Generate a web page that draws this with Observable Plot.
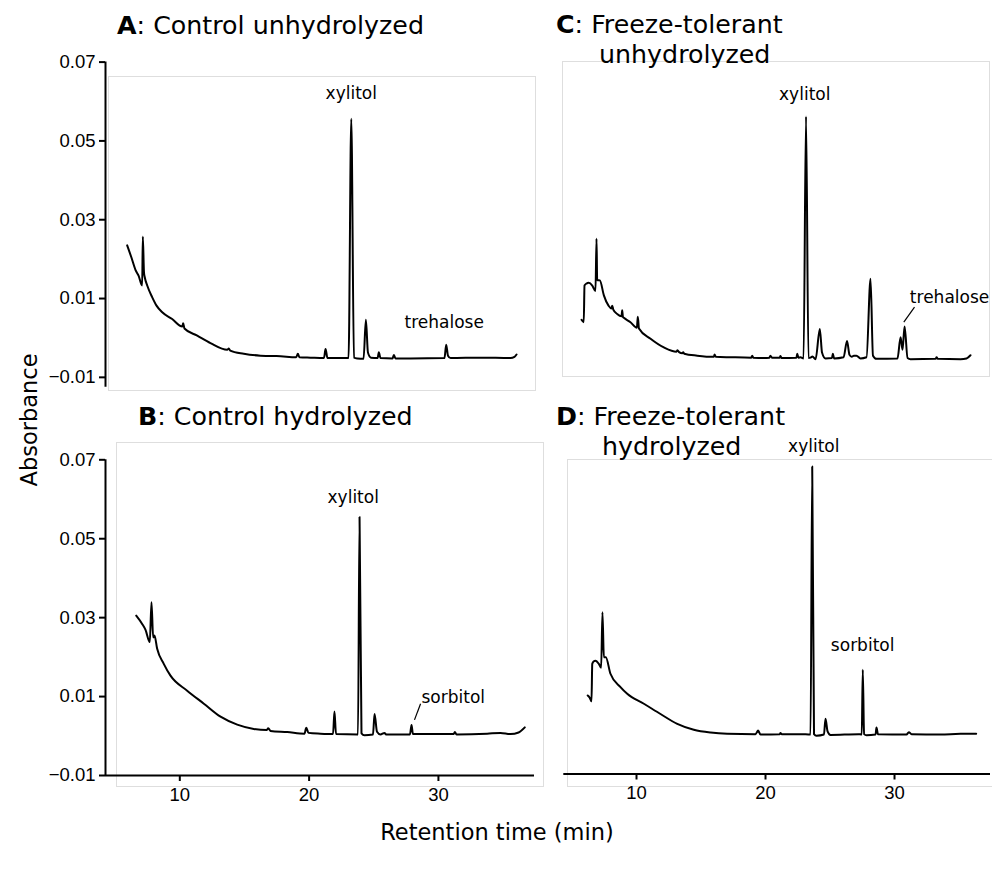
<!DOCTYPE html>
<html><head><meta charset="utf-8">
<script src="https://cdn.jsdelivr.net/npm/d3@7"></script>
<script src="https://cdn.jsdelivr.net/npm/@observablehq/plot@0.6"></script>
<style>
body{margin:0;background:#fff;}
#fig{position:relative;width:992px;height:877px;overflow:hidden;background:#fff;font-family:"DejaVu Sans",Verdana,sans-serif;color:#000;}
.lbl{position:absolute;white-space:nowrap;line-height:1;color:#000;}
.box{position:absolute;border:1px solid #dedede;box-sizing:border-box;}
.pan{position:absolute;}
</style></head><body><div id="fig"></div>
<script>
// ---- data: [retention time (min), absorbance] ----
const panelA = [[5.93,0.0235],[6.26,0.0204],[6.57,0.0173],[6.81,0.0158],[7.09,0.0133],[7.14,0.0257],[7.23,0.0166],[7.29,0.0154],[7.48,0.0133],[7.87,0.0103],[8.2,0.0082],[8.64,0.0065],[9.41,0.0048],[10.19,0.0029],[10.26,0.0037],[10.36,0.0024],[11.35,0.0006],[12.37,-0.0013],[13.67,-0.003],[13.79,-0.0027],[13.9,-0.0032],[14.95,-0.004],[16.24,-0.0045],[17.0,-0.0046],[17.48,-0.0046],[19.0,-0.0049],[19.13,-0.004],[19.25,-0.0049],[20.11,-0.005],[21.15,-0.0051],[21.27,-0.0028],[21.42,-0.0051],[23.05,-0.0051],[23.26,0.0556],[23.47,-0.005],[23.74,-0.0052],[24.21,-0.0053],[24.39,0.0046],[24.55,-0.0037],[24.78,-0.005],[25.3,-0.0051],[25.39,-0.0036],[25.52,-0.0051],[26.45,-0.0052],[26.55,-0.0043],[26.68,-0.0052],[27.84,-0.0052],[30.47,-0.0051],[30.6,-0.0017],[30.74,-0.0045],[30.94,-0.0051],[33.26,-0.005],[35.58,-0.0051],[35.88,-0.0048],[36.04,-0.0042]];
const panelB = [[6.63,0.0305],[7.09,0.0284],[7.35,0.0269],[7.68,0.0238],[7.81,0.0339],[7.94,0.025],[8.04,0.0255],[8.25,0.0221],[8.76,0.0183],[9.28,0.0153],[10.57,0.0115],[11.86,0.0082],[13.15,0.0049],[14.44,0.0029],[15.72,0.0018],[16.71,0.0015],[16.84,0.002],[17.01,0.0013],[18.31,0.001],[19.64,0.0006],[19.78,0.0021],[19.95,0.0008],[20.88,0.0006],[21.85,0.0005],[21.96,0.0062],[22.08,0.0005],[23.78,0.0004],[23.9,0.0555],[24.05,0.0007],[24.28,0.0002],[24.94,0.0004],[25.06,0.0056],[25.25,0.0011],[25.52,0.0004],[25.83,0.0008],[25.95,0.0004],[27.8,0.0004],[27.92,0.0028],[28.03,0.0005],[31.17,0.0005],[31.27,0.001],[31.4,0.0004],[33.77,0.0006],[34.8,0.0008],[35.58,0.0005],[36.2,0.0009],[36.68,0.0022]];
const panelC = [[5.74,0.0046],[5.91,0.004],[5.97,0.0133],[6.12,0.0138],[6.3,0.014],[6.57,0.0133],[6.82,0.0119],[6.9,0.0252],[6.95,0.0147],[7.16,0.0146],[7.47,0.0108],[7.83,0.0082],[8.05,0.0075],[8.12,0.0082],[8.2,0.0072],[8.5,0.0061],[8.84,0.0055],[8.89,0.007],[8.95,0.0053],[9.02,0.0051],[9.53,0.004],[10.03,0.0026],[10.1,0.0054],[10.19,0.0024],[11.09,-0.0002],[12.12,-0.0024],[13.1,-0.0035],[13.18,-0.0031],[13.3,-0.0036],[13.55,-0.0039],[13.62,-0.0036],[13.7,-0.004],[14.71,-0.0045],[16.0,-0.0048],[16.05,-0.0042],[16.15,-0.0048],[17.29,-0.0049],[18.9,-0.005],[18.97,-0.0045],[19.05,-0.005],[19.87,-0.0051],[20.3,-0.005],[20.38,-0.0045],[20.5,-0.005],[21.1,-0.005],[21.16,-0.0046],[21.25,-0.0051],[22.4,-0.005],[22.46,-0.004],[22.55,-0.005],[22.71,-0.0049],[22.95,-0.0052],[23.14,0.0562],[23.33,-0.0051],[23.5,-0.005],[23.64,-0.0047],[23.88,-0.0054],[24.21,0.0023],[24.38,-0.0037],[24.65,-0.0052],[25.15,-0.0051],[25.22,-0.004],[25.32,-0.0052],[26.05,-0.0049],[26.32,-0.0008],[26.51,-0.0043],[26.68,-0.0048],[26.85,-0.0045],[27.05,-0.0045],[27.36,-0.0052],[27.83,-0.0049],[28.14,0.015],[28.33,-0.0045],[28.6,-0.0053],[30.23,-0.0052],[30.47,0.0002],[30.62,-0.003],[30.78,0.0029],[31.01,-0.0051],[31.24,-0.0054],[33.18,-0.0053],[33.26,-0.0049],[33.35,-0.0053],[35.12,-0.0054],[35.58,-0.0052],[35.89,-0.0044]];
const panelD = [[6.22,0.0103],[6.36,0.0098],[6.51,0.0088],[6.57,0.0183],[6.67,0.0189],[6.82,0.0191],[7.08,0.0183],[7.26,0.0173],[7.36,0.0314],[7.47,0.02],[7.62,0.02],[7.98,0.0158],[8.76,0.0124],[9.28,0.0107],[10.57,0.0082],[11.86,0.0056],[13.16,0.0031],[14.44,0.0016],[15.74,0.0009],[17.03,0.0006],[19.22,0.0005],[19.43,0.0014],[19.61,0.0004],[21.1,0.0005],[21.16,0.0008],[21.25,0.0005],[22.71,0.0005],[23.49,0.0004],[23.62,0.0683],[23.76,0.0005],[23.95,0.0001],[24.53,0.0004],[24.65,0.0044],[24.81,0.0012],[25.04,0.0003],[27.21,0.0005],[27.46,0.0004],[27.54,0.0168],[27.64,0.0005],[27.83,0.0002],[28.53,0.0004],[28.6,0.0022],[28.72,0.0005],[30.93,0.0004],[31.11,0.001],[31.32,0.0005],[33.57,0.0004],[35.12,0.0006],[36.33,0.0006]];

// peak labels: [label, time, absorbance, anchor]
const labelsA = [["xylitol",23.26,0.062,"middle"],["trehalose",30.45,0.004,"middle"]];
const labelsB = [["xylitol",23.41,0.0605,"middle"],["sorbitol",28.69,0.0098,"start"]];
const labelsC = [["xylitol",23.04,0.0617,"middle"],["trehalose",31.19,0.0103,"start"]];
const labelsD = [["xylitol",23.74,0.0734,"middle"],["sorbitol",27.53,0.0229,"middle"]];
// leader lines: [t1, v1, t2, v2]
const leadersB = [[28.15,0.0041,28.62,0.0082]];
const leadersC = [[30.72,0.004,31.55,0.0078]];

// axes
const yTicks = [-0.01, 0.01, 0.03, 0.05, 0.07];
const xTicks = [10, 20, 30];
const xDomainLeft = [4.254, 37.43];
const xDomainRight = [4.364, 37.44];
const yDomainTop = [-0.0125, 0.07];
const yDomainBottom = [-0.01, 0.07];
const yDomainD = [-0.0096, 0.07];

const titles = [
  {bold:"A", rest:": Control unhydrolyzed", left:117, base:34.5},
  {bold:"B", rest:": Control hydrolyzed", left:138, base:425},
  {bold:"C", rest:": Freeze-tolerant", left:556, base:33.5, line2:"unhydrolyzed", left2:599, base2:63.5},
  {bold:"D", rest:": Freeze-tolerant", left:556, base:425, line2:"hydrolyzed", left2:602, base2:455}
];

const fig = document.getElementById("fig");
const TITLE_FS = 25.3;

function addBox(l, t, w, h) {
  const d = document.createElement("div");
  d.className = "box";
  Object.assign(d.style, {left: l + "px", top: t + "px", width: w + "px", height: h + "px"});
  fig.appendChild(d);
}
addBox(108, 76, 428, 315);
addBox(116, 442, 428, 345);
addBox(562, 61, 428, 316);
addBox(567, 459, 430, 328);

function addText(html, left, base, fs, extra) {
  const d = document.createElement("div");
  d.className = "lbl";
  d.innerHTML = html;
  d.style.fontSize = fs + "px";
  d.style.left = left + "px";
  d.style.top = (base - 0.846 * fs) + "px";
  if (extra) Object.assign(d.style, extra);
  fig.appendChild(d);
  return d;
}
for (const t of titles) {
  addText(`<b>${t.bold}</b>${t.rest}`, t.left, t.base, TITLE_FS);
  if (t.line2) addText(t.line2, t.left2, t.base2, TITLE_FS);
}

function panel({data, labels, leaders = [], xDomain, yDomain, left, top, width, height, ml, mr, mt, mb, showX, showY}) {
  const textOpts = {x: d => d[1], y: d => d[2], text: d => d[0], fontSize: 17, fontFamily: "DejaVu Sans, Verdana, sans-serif", fill: "#000"};
  const marks = [
    Plot.line(data, {x: d => d[0], y: d => d[1], stroke: "#000", strokeWidth: 2, curve: "monotone-x", strokeLinejoin: "round"}),
    Plot.text(labels.filter(d => d[3] === "middle"), {...textOpts, textAnchor: "middle"}),
    Plot.text(labels.filter(d => d[3] === "start"), {...textOpts, textAnchor: "start"}),
    Plot.link(leaders, {x1: d => d[0], y1: d => d[1], x2: d => d[2], y2: d => d[3], stroke: "#000", strokeWidth: 1.2})
  ];
  if (showY) {
    marks.push(Plot.ruleX([xDomain[0]], {stroke: "#000", strokeWidth: 2}));
    marks.push(Plot.axisY({ticks: yTicks, tickFormat: d3.format(".2f"), tickSize: 6, tickPadding: 4, fontSize: 18.5, strokeWidth: 2, label: null}));
  }
  if (showX) {
    marks.push(Plot.ruleY([yDomain[0]], {stroke: "#000", strokeWidth: 2}));
    marks.push(Plot.axisX({ticks: xTicks, tickSize: 6, tickPadding: 6, fontSize: 18.5, strokeWidth: 2, label: null}));
  }
  const svg = Plot.plot({
    width, height,
    marginLeft: ml, marginRight: mr, marginTop: mt, marginBottom: mb,
    x: {domain: xDomain, axis: showX ? undefined : null},
    y: {domain: yDomain, axis: showY ? undefined : null},
    style: {background: "transparent", overflow: "visible", color: "#000", fontFamily: "Liberation Sans, Arial, sans-serif"},
    marks
  });
  svg.classList.add("pan");
  svg.style.position = "absolute";
  svg.style.left = left + "px";
  svg.style.top = top + "px";
  svg.style.maxWidth = "none";
  fig.appendChild(svg);
}

panel({data: panelA, labels: labelsA, xDomain: xDomainLeft, yDomain: yDomainTop, left: 0, top: 0, width: 545, height: 400, ml: 105, mr: 11, mt: 61.6, mb: 13.3, showX: false, showY: true});
panel({data: panelB, labels: labelsB, leaders: leadersB, xDomain: xDomainLeft, yDomain: yDomainBottom, left: 0, top: 400, width: 545, height: 420, ml: 105, mr: 11, mt: 59.3, mb: 45, showX: true, showY: true});
panel({data: panelC, labels: labelsC, leaders: leadersC, xDomain: xDomainRight, yDomain: yDomainTop, left: 545, top: 0, width: 447, height: 400, ml: 18.3, mr: 2, mt: 61.6, mb: 13.3, showX: false, showY: false});
panel({data: panelD, labels: labelsD, xDomain: xDomainRight, yDomain: yDomainD, left: 545, top: 400, width: 447, height: 420, ml: 18.3, mr: 2, mt: 59.3, mb: 46.5, showX: true, showY: false});

// axis titles
addText("Absorbance", 0, 0, 22.5, {left: "29px", top: "420px", transform: "translate(-50%,-50%) rotate(-90deg)"});
addText("Retention time (min)", 0, 0, 22.5, {left: "497px", top: "832px", transform: "translate(-50%,-50%)"});
</script></body></html>
